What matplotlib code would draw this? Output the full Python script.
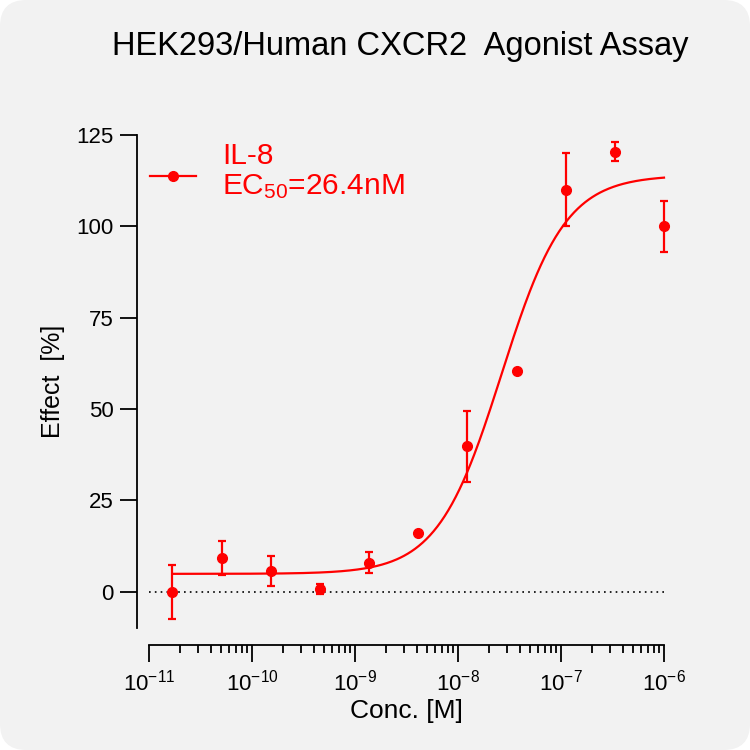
import numpy as np
import matplotlib
matplotlib.use("Agg")
import matplotlib.pyplot as plt
from matplotlib.patches import FancyBboxPatch

plt.rcParams['font.family'] = ['Liberation Sans', 'DejaVu Sans']
plt.rcParams['mathtext.fontset'] = 'custom'
plt.rcParams['mathtext.rm'] = 'Liberation Sans'
plt.rcParams['mathtext.it'] = 'Liberation Sans'
plt.rcParams['mathtext.bf'] = 'Liberation Sans'

# Data
conc = [1.69e-11, 5.08e-11, 1.52e-10, 4.57e-10, 1.37e-9, 4.12e-9,
        1.23e-8, 3.70e-8, 1.11e-7, 3.33e-7, 1.0e-6]
effect = [0.0, 9.3, 5.7, 0.7, 8.0, 16.1, 39.8, 60.3, 110.0, 120.4, 100.0]
err = [7.4, 4.7, 4.2, 1.4, 3.0, 0.0, 9.7, 0.0, 10.0, 2.6, 7.0]

# 4PL fit parameters
bottom, top, ec50, hill = 4.9, 114.0, 26.4e-9, 1.4

xticks = [1e-11, 1e-10, 1e-9, 1e-8, 1e-7, 1e-6]
xticklabels = ['$10^{-11}$', '$10^{-10}$', '$10^{-9}$', '$10^{-8}$', '$10^{-7}$', '$10^{-6}$']
yticks = [0, 25, 50, 75, 100, 125]

RED = '#ff0000'

fig = plt.figure(figsize=(7.5, 7.5), dpi=100)
fig.patch.set_facecolor('white')
bg = FancyBboxPatch((0, 0), 1, 1, boxstyle='round,pad=0,rounding_size=0.035',
                    transform=fig.transFigure, facecolor='#f2f2f2',
                    edgecolor='none', zorder=-10)
fig.patches.append(bg)

ax = fig.add_axes([149/750, (750-628.3)/750, (664-149)/750, (628.3-135)/750])
ax.set_facecolor('none')
ax.set_xscale('log')
ax.set_xlim(1e-11, 1e-6)
ax.set_ylim(-10, 125)

# zero line
ax.axhline(0, color='black', lw=1.2, ls=(0, (1, 2.5)), zorder=1)

# curve
xc = np.logspace(np.log10(conc[0]), np.log10(conc[-1]), 400)
yc = bottom + (top - bottom) / (1 + (ec50 / xc) ** hill)
ax.plot(xc, yc, color=RED, lw=1.6, zorder=3, clip_on=False)

ax.errorbar(conc, effect, yerr=err, fmt='o', color=RED, ms=7, elinewidth=1.6,
            capsize=3.2, capthick=1.6, zorder=4, clip_on=False)

for s in ['top', 'right']:
    ax.spines[s].set_visible(False)
ax.spines['left'].set_position(('outward', 8.4))
ax.spines['bottom'].set_position(('outward', 12))
for s in ['left', 'bottom']:
    ax.spines[s].set_linewidth(1.3)

ax.set_yticks(yticks)
ax.set_xticks(xticks)
ax.set_xticklabels(xticklabels)
ax.xaxis.set_minor_locator(matplotlib.ticker.LogLocator(base=10, subs=np.arange(2, 10), numticks=20))
ax.xaxis.set_minor_formatter(matplotlib.ticker.NullFormatter())
ax.tick_params(axis='both', which='major', direction='out', length=12, width=1.3,
               labelsize=16, color='black')
ax.tick_params(axis='x', labelsize=16)
ax.tick_params(axis='y', pad=5)
ax.tick_params(axis='x', pad=6)
ax.tick_params(axis='x', which='minor', direction='out', length=6, width=1.3)

ax.set_xlabel('Conc. [M]', fontsize=19, labelpad=2)
ax.set_ylabel('Effect  [%]', fontsize=18, labelpad=8)

fig.text(400/750, 1 - 47/750, 'HEK293/Human CXCR2  Agonist Assay', fontsize=23.5,
         ha='center', va='center', color='black')

# legend (manual, in axes coordinates)
ax.plot([0.002, 0.091], [0.917, 0.917], color=RED, lw=1.6, transform=ax.transAxes,
        clip_on=False)
ax.plot([0.0466], [0.917], 'o', color=RED, ms=7, transform=ax.transAxes, clip_on=False)
ax.text(0.1417, 0.925, 'IL-8\nEC$_{50}$=26.4nM', transform=ax.transAxes, color=RED,
        fontsize=21.5, ha='left', va='center', linespacing=1.1)

fig.savefig('out.png', dpi=100, facecolor=fig.get_facecolor())
